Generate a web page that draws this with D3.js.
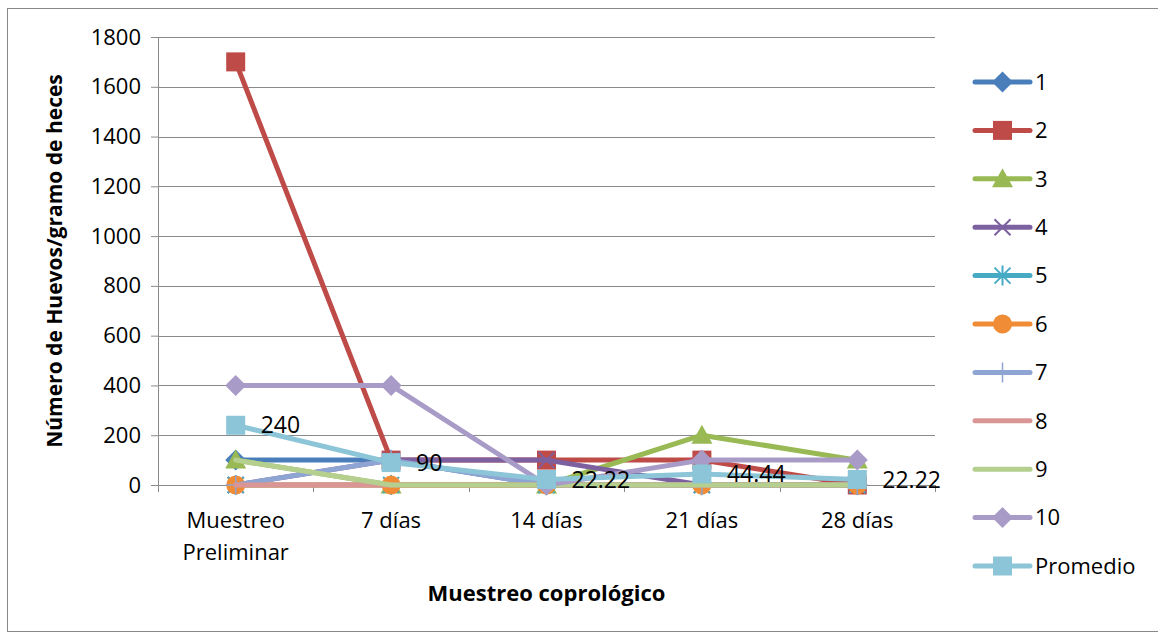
<!DOCTYPE html>
<html>
<head>
<meta charset="utf-8">
<script src="https://d3js.org/d3.v7.min.js"></script>
<style>
  body { margin: 0; background: #fff; }
  svg text { font-family: "Open Sans", sans-serif; fill: #000; }
</style>
</head>
<body>
<div id="chart"></div>
<script>
// categories and series
var categories = ["Muestreo Preliminar", "7 días", "14 días", "21 días", "28 días"];
var yTicks = [0, 200, 400, 600, 800, 1000, 1200, 1400, 1600, 1800];
var s1 = [100, 100, 0, 0, 0];
var s2 = [1700, 100, 100, 100, 0];
var s3 = [100, 0, 0, 200, 100];
var s4 = [0, 100, 100, 0, 0];
var s5 = [0, 0, 0, 0, 0];
var s6 = [0, 0, 0, 0, 0];
var s7 = [0, 100, 0, 0, 0];
var s8 = [0, 0, 0, 0, 0];
var s9 = [100, 0, 0, 0, 0];
var s10 = [400, 400, 0, 100, 100];
var promedio = [240, 90, 22.22, 44.44, 22.22];
var seriesNames = ["1", "2", "3", "4", "5", "6", "7", "8", "9", "10", "Promedio"];

var series = [
  { name: seriesNames[0], values: s1, color: "#4A7EBB", marker: "diamond" },
  { name: seriesNames[1], values: s2, color: "#BE4B48", marker: "square" },
  { name: seriesNames[2], values: s3, color: "#98B954", marker: "triangle" },
  { name: seriesNames[3], values: s4, color: "#7D60A0", marker: "x" },
  { name: seriesNames[4], values: s5, color: "#46AAC5", marker: "star" },
  { name: seriesNames[5], values: s6, color: "#F08B36", marker: "circle" },
  { name: seriesNames[6], values: s7, color: "#8EA5D3", marker: "plus" },
  { name: seriesNames[7], values: s8, color: "#D99694", marker: "none" },
  { name: seriesNames[8], values: s9, color: "#B5CF8E", marker: "none" },
  { name: seriesNames[9], values: s10, color: "#A99BC7", marker: "diamond" },
  { name: seriesNames[10], values: promedio, color: "#8CC4D8", marker: "square", labels: true }
];

var margin = { top: 37, left: 158 },
    width = 777,
    height = 448;

var svg = d3.select("#chart").append("svg")
    .attr("width", 1158)
    .attr("height", 637);

// outer frame
svg.append("rect")
    .attr("x", 7.5).attr("y", 8.5)
    .attr("width", 1160).attr("height", 623)
    .attr("fill", "none").attr("stroke", "#898989");

var g = svg.append("g")
    .attr("transform", "translate(" + margin.left + "," + margin.top + ")");

var x = d3.scaleBand().domain(categories).range([0, width]);
var y = d3.scaleLinear().domain([0, 1800]).range([height, 0]);
var cx = function (i) { return x(categories[i]) + x.bandwidth() / 2; };

// gridlines
g.selectAll(".grid").data(yTicks.slice(1)).enter().append("line")
    .attr("x1", 0).attr("x2", width)
    .attr("y1", function (d) { return Math.round(y(d)) + 0.5; })
    .attr("y2", function (d) { return Math.round(y(d)) + 0.5; })
    .attr("stroke", "#8a8a8a").attr("stroke-width", 1);

// y axis
var yAxis = g.append("g")
    .call(d3.axisLeft(y).tickValues(yTicks).tickSize(7).tickPadding(10).tickFormat(d3.format("d")));
yAxis.selectAll("path, line").attr("stroke", "#8a8a8a");
yAxis.selectAll("text").style("font-size", "22px").style("font-family", "Open Sans");

// x axis with ticks at category boundaries
var xAxis = g.append("g").attr("transform", "translate(0," + height + ")");
xAxis.append("line").attr("x1", 0).attr("x2", width).attr("y1", 0.5).attr("y2", 0.5).attr("stroke", "#8a8a8a");
var bounds = categories.map(function (c) { return x(c); }).concat([width]);
xAxis.selectAll(".tk").data(bounds).enter().append("line")
    .attr("x1", function (d) { return Math.round(d) + 0.5; })
    .attr("x2", function (d) { return Math.round(d) + 0.5; })
    .attr("y1", 0).attr("y2", 7).attr("stroke", "#8a8a8a");
xAxis.selectAll(".lbl").data(categories).enter().append("text")
    .attr("text-anchor", "middle")
    .style("font-size", "22px")
    .each(function (d, i) {
      var words = i === 0 ? ["Muestreo", "Preliminar"] : [d];
      var t = d3.select(this);
      words.forEach(function (w, k) {
        t.append("tspan").attr("x", cx(i)).attr("y", 43 + k * 32).text(w);
      });
    });

// axis titles
svg.append("text")
    .attr("x", margin.left + width / 2).attr("y", 601)
    .attr("text-anchor", "middle")
    .style("font-size", "22px").style("font-weight", "bold")
    .text("Muestreo coprológico");
svg.append("text")
    .attr("transform", "translate(62," + (margin.top + height / 2) + ") rotate(-90)")
    .attr("text-anchor", "middle")
    .style("font-size", "21px").style("font-weight", "bold")
    .text("Número de Huevos/gramo de heces");

// marker drawing
function drawMarker(sel, type, color, px, py) {
  var s = 9.5;
  if (type === "diamond") {
    sel.append("path").attr("d", "M" + px + "," + (py - s - 1) + "L" + (px + s + 1) + "," + py + "L" + px + "," + (py + s + 1) + "L" + (px - s - 1) + "," + py + "Z")
        .attr("fill", color);
  } else if (type === "square") {
    sel.append("rect").attr("x", px - s).attr("y", py - s).attr("width", 2 * s).attr("height", 2 * s).attr("fill", color);
  } else if (type === "triangle") {
    sel.append("path").attr("d", "M" + px + "," + (py - s - 1) + "L" + (px + s + 1) + "," + (py + s - 1) + "L" + (px - s - 1) + "," + (py + s - 1) + "Z")
        .attr("fill", color);
  } else if (type === "circle") {
    sel.append("circle").attr("cx", px).attr("cy", py).attr("r", s).attr("fill", color);
  } else if (type === "x") {
    sel.append("path").attr("d", "M" + (px - 8) + "," + (py - 8) + "L" + (px + 8) + "," + (py + 8) + "M" + (px + 8) + "," + (py - 8) + "L" + (px - 8) + "," + (py + 8))
        .attr("stroke", color).attr("stroke-width", 2);
  } else if (type === "star") {
    sel.append("path").attr("d", "M" + (px - 8) + "," + (py - 8) + "L" + (px + 8) + "," + (py + 8) + "M" + (px + 8) + "," + (py - 8) + "L" + (px - 8) + "," + (py + 8) + "M" + px + "," + (py - 10) + "L" + px + "," + (py + 10))
        .attr("stroke", color).attr("stroke-width", 2);
  } else if (type === "plus") {
    sel.append("path").attr("d", "M" + px + "," + (py - 10) + "L" + px + "," + (py + 10) + "M" + (px - 10) + "," + py + "L" + (px + 10) + "," + py)
        .attr("stroke", color).attr("stroke-width", 1.5);
  }
}

var line = d3.line()
    .x(function (d, i) { return cx(i); })
    .y(function (d) { return y(d); });

series.forEach(function (s) {
  var sg = g.append("g");
  sg.append("path")
      .datum(s.values)
      .attr("d", line)
      .attr("fill", "none")
      .attr("stroke", s.color)
      .attr("stroke-width", 5)
      .attr("stroke-linejoin", "round")
      .attr("stroke-linecap", "round");
  s.values.forEach(function (v, i) {
    drawMarker(sg, s.marker, s.color, cx(i), y(v));
  });
});

// data labels for Promedio
var prom = series[10];
g.selectAll(".dl").data(prom.values).enter().append("text")
    .attr("x", function (d, i) { return cx(i) + 25; })
    .attr("y", function (d) { return y(d); })
    .attr("dy", "0.35em")
    .style("font-size", "23px")
    .text(function (d) { return d3.format("")(d); });

// legend
var legend = svg.append("g").attr("transform", "translate(975,82)");
series.forEach(function (s, k) {
  var lg = legend.append("g").attr("transform", "translate(0," + (k * 48.4) + ")");
  lg.append("line").attr("x1", 0).attr("x2", 55).attr("y1", 0).attr("y2", 0)
      .attr("stroke", s.color).attr("stroke-width", 5).attr("stroke-linecap", "round");
  drawMarker(lg, s.marker, s.color, 27.5, 0);
  lg.append("text").attr("x", 60).attr("y", 0).attr("dy", "0.35em")
      .style("font-size", "22px").text(s.name);
});
</script>
</body>
</html>
